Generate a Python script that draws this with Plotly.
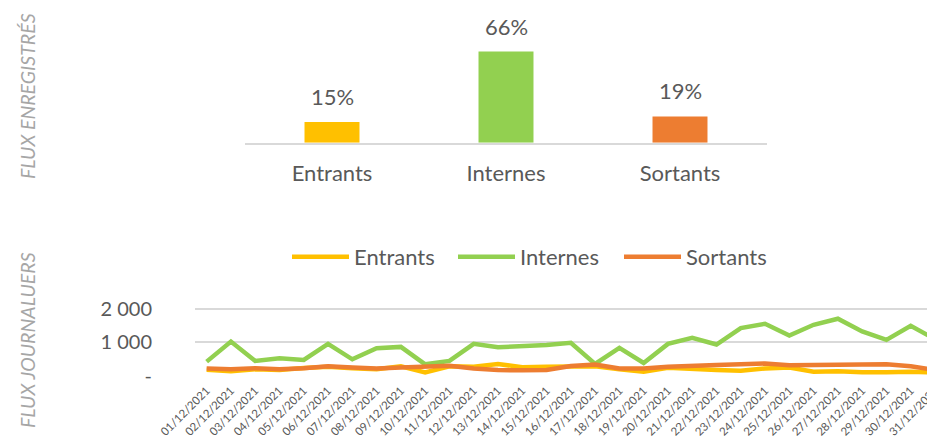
import plotly.graph_objects as go

# ---------------- data ----------------
categories = ["Entrants", "Internes", "Sortants"]
shares = [15, 66, 19]

dates = [f"{d:02d}/12/2021" for d in range(1, 32)]
entrants = [180, 130, 190, 170, 230, 270, 220, 190, 280, 100, 280, 265, 350, 250, 270,
            265, 280, 190, 120, 235, 190, 170, 150, 215, 245, 120, 135, 100, 100, 120, 100]
internes = [420, 1020, 440, 520, 470, 950, 490, 820, 860, 340, 440, 950, 850, 880, 920,
            980, 350, 830, 380, 950, 1130, 930, 1420, 1550, 1200, 1520, 1700, 1320, 1070, 1490, 1090]
sortants = [215, 196, 225, 196, 225, 285, 245, 215, 245, 260, 300, 215, 170, 160, 170,
            290, 333, 215, 215, 265, 304, 323, 343, 363, 313, 313, 333, 323, 343, 284, 167]

colors = {"Entrants": "#FFC000", "Internes": "#92D050", "Sortants": "#ED7D31"}
series = {"Entrants": entrants, "Internes": internes, "Sortants": sortants}

y_ticks = [0, 1000, 2000]
y_ticklabels = ["-", "1 000", "2 000"]

# ---------------- layout geometry ----------------
# the page body has an 8px default margin; the figure is sized to fill the rest
OFF = 8
W, H = 935 - OFF, 436 - OFF
FONT = "Lato"
TXT = "#595959"
GRID = "#D9D9D9"

def px_x(p):
    return (p - OFF) / W

def px_y(p):
    return 1 - (p - OFF) / H

BAR_BASE = 142.7          # window px of the bar baseline
BAR_SCALE = 1.38          # px per percent
bar_top_range = (BAR_BASE - OFF) / BAR_SCALE

fig = go.Figure()

fig.add_trace(go.Bar(
    x=categories, y=shares,
    marker=dict(color=[colors[c] for c in categories], line=dict(width=0)),
    width=0.316, showlegend=False, hoverinfo="skip",
    xaxis="x", yaxis="y",
))

for c in categories:
    fig.add_trace(go.Scatter(
        x=dates, y=series[c], name=c, mode="lines",
        line=dict(color=colors[c], width=4.5),
        xaxis="x2", yaxis="y2",
    ))

annotations = []
for c, v in zip(categories, shares):
    annotations.append(dict(
        x=c, y=v, xref="x", yref="y", text=f"{v}%", showarrow=False,
        yanchor="bottom", yshift=10, font=dict(family=FONT, size=22, color=TXT),
    ))

for label, cy in [("FLUX ENREGISTRÉS", 96), ("FLUX JOURNALUERS", 340)]:
    annotations.append(dict(
        x=px_x(27), y=px_y(cy), xref="paper", yref="paper", text=label,
        textangle=-90, showarrow=False, xanchor="center", yanchor="middle",
        font=dict(family=FONT, size=19.5, color="#A6A6A6", style="italic"),
    ))

fig.update_layout(
    template="none",
    width=W, height=H,
    margin=dict(l=0, r=0, t=0, b=0, autoexpand=False),
    paper_bgcolor="white", plot_bgcolor="white",
    font=dict(family=FONT, color=TXT),
    annotations=annotations,
    xaxis=dict(
        domain=[px_x(245), px_x(767)], anchor="y", automargin=False,
        type="category", range=[-0.5, 2.5],
        showline=True, linecolor=GRID, linewidth=2,
        showgrid=False, zeroline=False, ticks="", ticklabelstandoff=10,
        tickfont=dict(family=FONT, size=22, color=TXT),
    ),
    yaxis=dict(
        domain=[px_y(BAR_BASE), 1], anchor="x", automargin=False,
        range=[0, bar_top_range], visible=False,
    ),
    xaxis2=dict(
        domain=[px_x(195), 1], anchor="y2", automargin=False,
        type="category", range=[-0.48, 30.0],
        showline=False, showgrid=False, zeroline=False, ticks="",
        tickmode="linear", dtick=1,
        tickangle=-45, ticklabelstandoff=5,
        tickfont=dict(family=FONT, size=11.5, color=TXT),
    ),
    yaxis2=dict(
        domain=[px_y(375.7), px_y(302)], anchor="x2", automargin=False,
        range=[0, 2200], tickvals=y_ticks, ticktext=y_ticklabels,
        showgrid=True, gridcolor=GRID, gridwidth=1.5,
        zeroline=False, showline=False, ticks="",
        ticklabelstandoff=42,
        tickfont=dict(family=FONT, size=20, color=TXT),
    ),
    legend=dict(
        orientation="h", x=px_x(536), xanchor="center",
        y=px_y(257), yanchor="middle",
        font=dict(family=FONT, size=22, color=TXT),
        bgcolor="rgba(0,0,0,0)",
        itemwidth=57, entrywidth=94,
    ),
)

fig.write_html("out.html")
